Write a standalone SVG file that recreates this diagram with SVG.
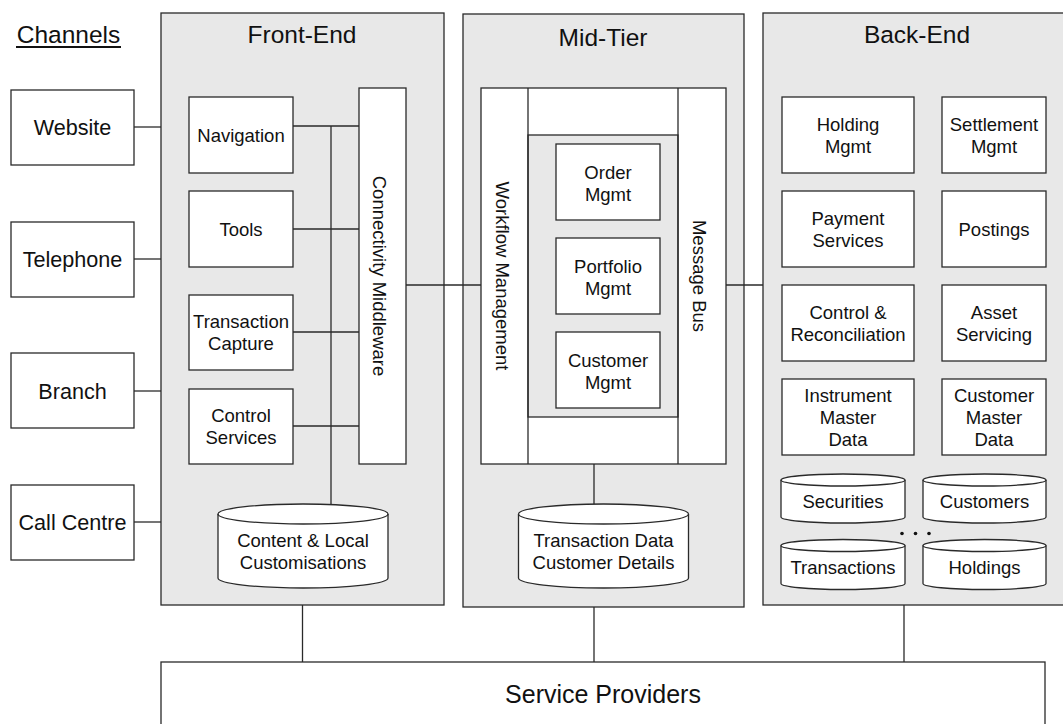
<svg xmlns="http://www.w3.org/2000/svg" width="1063" height="724" viewBox="0 0 1063 724">
<style>
  .panel { fill: #e8e8e8; stroke: #2a2a2a; stroke-width: 1.3; }
  .box { fill: #ffffff; stroke: #2a2a2a; stroke-width: 1.3; }
  .grey { fill: #e8e8e8; stroke: #2a2a2a; stroke-width: 1.3; }
  .ln { stroke: #2a2a2a; stroke-width: 1.3; fill: none; }
  text { font-family: "Liberation Sans", Arial, sans-serif; fill: #111; text-anchor: middle; }
  .hdr { font-size: 24.5px; }
  .ch { font-size: 21.6px; }
  .lb { font-size: 18.5px; }
  .sp { font-size: 25px; }
</style>
<rect width="1063" height="724" fill="#ffffff"/>

<!-- Panels -->
<g id="front-end">
  <rect class="panel" x="161" y="13" width="283" height="592"/>
  <text class="hdr" x="302" y="43">Front-End</text>
</g>
<g id="mid-tier">
  <rect class="panel" x="463" y="14" width="281" height="593"/>
  <text class="hdr" x="603" y="46">Mid-Tier</text>
</g>
<g id="back-end">
  <rect class="panel" x="763" y="13" width="310" height="592"/>
  <text class="hdr" x="917" y="43">Back-End</text>
</g>

<!-- Channels title -->
<g id="channels-title">
  <text class="hdr" x="68.5" y="43">Channels</text>
  <line x1="16" y1="47" x2="121" y2="47" stroke="#111" stroke-width="2"/>
</g>

<!-- Connectors -->
<g id="connectors">
  <line class="ln" x1="134" y1="127" x2="161" y2="127"/>
  <line class="ln" x1="134" y1="259" x2="161" y2="259"/>
  <line class="ln" x1="134" y1="391" x2="161" y2="391"/>
  <line class="ln" x1="134" y1="522" x2="161" y2="522"/>
  <line class="ln" x1="331" y1="126" x2="331" y2="504"/>
  <line class="ln" x1="293" y1="126" x2="359" y2="126"/>
  <line class="ln" x1="293" y1="229" x2="359" y2="229"/>
  <line class="ln" x1="293" y1="332" x2="359" y2="332"/>
  <line class="ln" x1="293" y1="426" x2="359" y2="426"/>
  <line class="ln" x1="406" y1="285" x2="481" y2="285"/>
  <line class="ln" x1="726" y1="285" x2="763" y2="285"/>
  <line class="ln" x1="528" y1="182" x2="556" y2="182"/>
  <line class="ln" x1="660" y1="182" x2="678" y2="182"/>
  <line class="ln" x1="528" y1="276" x2="556" y2="276"/>
  <line class="ln" x1="660" y1="276" x2="678" y2="276"/>
  <line class="ln" x1="528" y1="370" x2="556" y2="370"/>
  <line class="ln" x1="660" y1="370" x2="678" y2="370"/>
  <line class="ln" x1="594" y1="464" x2="594" y2="504"/>
  <line class="ln" x1="302.5" y1="605" x2="302.5" y2="662"/>
  <line class="ln" x1="594" y1="607" x2="594" y2="662"/>
  <line class="ln" x1="904" y1="605" x2="904" y2="662"/>
</g>

<!-- Channel nodes -->
<g id="website">
  <rect class="box" x="11" y="90" width="123" height="75"/>
  <text class="ch" x="72.5" y="135">Website</text>
</g>
<g id="telephone">
  <rect class="box" x="11" y="222" width="123" height="75"/>
  <text class="ch" x="72.5" y="267">Telephone</text>
</g>
<g id="branch">
  <rect class="box" x="11" y="353" width="123" height="75"/>
  <text class="ch" x="72.5" y="398.5">Branch</text>
</g>
<g id="call-centre">
  <rect class="box" x="11" y="485" width="123" height="75"/>
  <text class="ch" x="72.5" y="530">Call Centre</text>
</g>

<!-- Front-End nodes -->
<g id="navigation">
  <rect class="box" x="189" y="97" width="104" height="76"/>
  <text class="lb" x="241" y="141.5">Navigation</text>
</g>
<g id="tools">
  <rect class="box" x="189" y="191" width="104" height="76"/>
  <text class="lb" x="241" y="235.5">Tools</text>
</g>
<g id="transaction-capture">
  <rect class="box" x="189" y="295" width="104" height="75"/>
  <text class="lb" x="241" y="328">Transaction</text>
  <text class="lb" x="241" y="350">Capture</text>
</g>
<g id="control-services">
  <rect class="box" x="189" y="389" width="104" height="75"/>
  <text class="lb" x="241" y="422">Control</text>
  <text class="lb" x="241" y="444">Services</text>
</g>
<g id="connectivity-middleware">
  <rect class="box" x="359" y="88" width="47" height="376"/>
  <text class="lb" transform="translate(373,276) rotate(90)">Connectivity Middleware</text>
</g>
<g id="content-db">
  <path class="box" d="M218,514 A85,10 0 0 1 388,514 L388,578 A85,10 0 0 1 218,578 Z"/>
  <path class="ln" d="M218,514 A85,10 0 0 0 388,514"/>
  <text class="lb" x="303" y="547">Content &amp; Local</text>
  <text class="lb" x="303" y="569">Customisations</text>
</g>

<!-- Mid-Tier nodes -->
<g id="mid-frame">
  <rect class="box" x="481" y="88" width="245" height="376"/>
  <rect class="grey" x="528" y="135" width="150" height="282"/>
  <line class="ln" x1="528" y1="88" x2="528" y2="464"/>
  <line class="ln" x1="678" y1="88" x2="678" y2="464"/>
</g>
<g id="workflow-management">
  <text class="lb" transform="translate(496,276) rotate(90)">Workflow Management</text>
</g>
<g id="message-bus">
  <text class="lb" transform="translate(693,276) rotate(90)">Message Bus</text>
</g>
<g id="order-mgmt">
  <rect class="box" x="556" y="144" width="104" height="76"/>
  <text class="lb" x="608" y="178.5">Order</text>
  <text class="lb" x="608" y="200.5">Mgmt</text>
</g>
<g id="portfolio-mgmt">
  <rect class="box" x="556" y="238" width="104" height="76"/>
  <text class="lb" x="608" y="272.5">Portfolio</text>
  <text class="lb" x="608" y="294.5">Mgmt</text>
</g>
<g id="customer-mgmt">
  <rect class="box" x="556" y="332" width="104" height="76"/>
  <text class="lb" x="608" y="366.5">Customer</text>
  <text class="lb" x="608" y="388.5">Mgmt</text>
</g>
<g id="transaction-db">
  <path class="box" d="M518.5,514 A85,10 0 0 1 688.5,514 L688.5,578 A85,10 0 0 1 518.5,578 Z"/>
  <path class="ln" d="M518.5,514 A85,10 0 0 0 688.5,514"/>
  <text class="lb" x="603.5" y="547">Transaction Data</text>
  <text class="lb" x="603.5" y="569">Customer Details</text>
</g>

<!-- Back-End nodes -->
<g id="holding-mgmt">
  <rect class="box" x="782" y="97" width="132" height="76"/>
  <text class="lb" x="848" y="131">Holding</text>
  <text class="lb" x="848" y="153">Mgmt</text>
</g>
<g id="settlement-mgmt">
  <rect class="box" x="942" y="97" width="104" height="76"/>
  <text class="lb" x="994" y="131">Settlement</text>
  <text class="lb" x="994" y="153">Mgmt</text>
</g>
<g id="payment-services">
  <rect class="box" x="782" y="191" width="132" height="76"/>
  <text class="lb" x="848" y="225">Payment</text>
  <text class="lb" x="848" y="247">Services</text>
</g>
<g id="postings">
  <rect class="box" x="942" y="191" width="104" height="76"/>
  <text class="lb" x="994" y="235.5">Postings</text>
</g>
<g id="control-reconciliation">
  <rect class="box" x="782" y="285" width="132" height="76"/>
  <text class="lb" x="848" y="319">Control &amp;</text>
  <text class="lb" x="848" y="341">Reconciliation</text>
</g>
<g id="asset-servicing">
  <rect class="box" x="942" y="285" width="104" height="76"/>
  <text class="lb" x="994" y="319">Asset</text>
  <text class="lb" x="994" y="341">Servicing</text>
</g>
<g id="instrument-master-data">
  <rect class="box" x="782" y="379" width="132" height="76"/>
  <text class="lb" x="848" y="401.5">Instrument</text>
  <text class="lb" x="848" y="423.5">Master</text>
  <text class="lb" x="848" y="445.5">Data</text>
</g>
<g id="customer-master-data">
  <rect class="box" x="942" y="379" width="104" height="76"/>
  <text class="lb" x="994" y="401.5">Customer</text>
  <text class="lb" x="994" y="423.5">Master</text>
  <text class="lb" x="994" y="445.5">Data</text>
</g>
<g id="securities-db">
  <path class="box" d="M781,480 A62,6 0 0 1 905,480 L905,517 A62,6 0 0 1 781,517 Z"/>
  <path class="ln" d="M781,480 A62,6 0 0 0 905,480"/>
  <text class="lb" x="843" y="507.5">Securities</text>
</g>
<g id="customers-db">
  <path class="box" d="M923,480 A61.5,6 0 0 1 1046,480 L1046,517 A61.5,6 0 0 1 923,517 Z"/>
  <path class="ln" d="M923,480 A61.5,6 0 0 0 1046,480"/>
  <text class="lb" x="984.5" y="507.5">Customers</text>
</g>
<g id="transactions-db">
  <path class="box" d="M781,545.5 A62,6 0 0 1 905,545.5 L905,583.5 A62,6 0 0 1 781,583.5 Z"/>
  <path class="ln" d="M781,545.5 A62,6 0 0 0 905,545.5"/>
  <text class="lb" x="843" y="574">Transactions</text>
</g>
<g id="holdings-db">
  <path class="box" d="M923,545.5 A61.5,6 0 0 1 1046,545.5 L1046,583.5 A61.5,6 0 0 1 923,583.5 Z"/>
  <path class="ln" d="M923,545.5 A61.5,6 0 0 0 1046,545.5"/>
  <text class="lb" x="984.5" y="574">Holdings</text>
</g>
<g id="ellipsis">
  <circle cx="902" cy="533.5" r="1.8" fill="#111"/>
  <circle cx="915.5" cy="533.5" r="1.8" fill="#111"/>
  <circle cx="929" cy="533.5" r="1.8" fill="#111"/>
</g>

<!-- Service Providers -->
<g id="service-providers">
  <rect class="box" x="161" y="662" width="884" height="80"/>
  <text class="sp" x="603" y="703">Service Providers</text>
</g>
</svg>
